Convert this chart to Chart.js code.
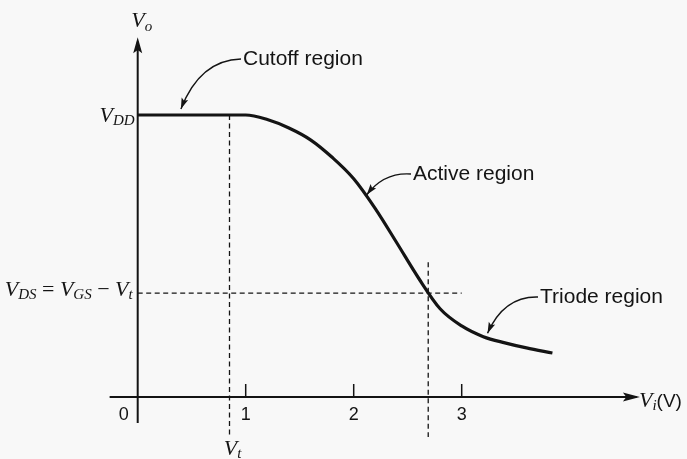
<!DOCTYPE html>
<html>
<head>
<meta charset="utf-8">
<script src="https://cdn.jsdelivr.net/npm/chart.js@4"></script>
<style>
  html, body { margin: 0; padding: 0; background: #f8f8f8; }
  #wrap { width: 687px; height: 459px; }
</style>
</head>
<body>
<div id="wrap"><canvas id="vtc"></canvas></div>
<script>
// Voltage transfer curve of the inverter: input V_i (V) against output V_o
const vi = [0, 0.87, 1.0, 1.2, 1.4, 1.6, 1.8, 2.0, 2.2, 2.4, 2.6, 2.8, 3.0, 3.2, 3.4, 3.6, 3.84];
const vo = [5, 5, 5, 4.92, 4.77, 4.56, 4.25, 3.87, 3.34, 2.73, 2.11, 1.565, 1.26, 1.07, 0.96, 0.87, 0.78];
const xTicks = [1, 2, 3];
const VDD = 5;
const VT = 0.85;          // threshold, end of cutoff
const VI_EDGE = 2.69;     // where V_DS = V_GS - V_t
const VDS_EDGE = 1.84;

const INK = '#141414';
const SERIF = '"Liberation Serif", "Times New Roman", serif';
const SANS = '"Liberation Sans", Arial, sans-serif';

// text made of runs: [text, font, baseline shift]
function textRuns(ctx, parts, x, y, align) {
  let w = 0;
  parts.forEach(p => { ctx.font = p[1]; w += ctx.measureText(p[0]).width; });
  let cx = align === 'right' ? x - w : align === 'center' ? x - w / 2 : x;
  parts.forEach(p => {
    ctx.font = p[1];
    ctx.fillText(p[0], cx, y + (p[2] || 0));
    cx += ctx.measureText(p[0]).width;
  });
}

function arrowHead(ctx, tx, ty, angle, len, half) {
  ctx.save();
  ctx.translate(tx, ty);
  ctx.rotate(angle);
  ctx.beginPath();
  ctx.moveTo(0, 0);
  ctx.lineTo(-len, -half);
  ctx.lineTo(-len * 0.8, 0);
  ctx.lineTo(-len, half);
  ctx.closePath();
  ctx.fill();
  ctx.restore();
}

// curved pointer from a label to a spot on the curve
function pointer(ctx, sx, sy, cx, cy, tx, ty) {
  ctx.beginPath();
  ctx.moveTo(sx, sy);
  ctx.quadraticCurveTo(cx, cy, tx, ty);
  ctx.stroke();
  arrowHead(ctx, tx, ty, Math.atan2(ty - cy, tx - cx), 11, 3.5);
}

const page = {
  id: 'page',
  beforeDraw(chart) {
    const { ctx, width, height } = chart;
    ctx.save();
    ctx.fillStyle = '#f8f8f8';
    ctx.fillRect(0, 0, width, height);
    ctx.restore();
  },
  afterDatasetsDraw(chart) {
    const { ctx } = chart;
    const X = v => chart.scales.x.getPixelForValue(v);
    const Y = v => chart.scales.y.getPixelForValue(v);
    const x0 = X(0), y0 = Y(0);

    ctx.save();
    ctx.strokeStyle = INK;
    ctx.fillStyle = INK;

    // axes with arrow heads
    ctx.lineWidth = 2;
    ctx.beginPath();
    ctx.moveTo(X(-0.26), y0);
    ctx.lineTo(X(4.62), y0);
    ctx.moveTo(x0, Y(-0.46));
    ctx.lineTo(x0, Y(6.3));
    ctx.stroke();
    arrowHead(ctx, X(4.65), y0, 0, 17, 4.5);
    arrowHead(ctx, x0, Y(6.38), -Math.PI / 2, 16, 4.5);

    // ticks on the V_i axis
    ctx.lineWidth = 1.5;
    ctx.beginPath();
    xTicks.forEach(t => { ctx.moveTo(X(t), y0); ctx.lineTo(X(t), y0 - 13); });
    ctx.stroke();

    ctx.textBaseline = 'alphabetic';
    ctx.font = '18px ' + SANS;
    ctx.textAlign = 'center';
    xTicks.forEach(t => ctx.fillText(String(t), X(t), y0 + 23));
    ctx.fillText('0', x0 - 14, y0 + 23);
    ctx.textAlign = 'left';

    const V = 'italic 22px ' + SERIF;
    const S = 'italic 15px ' + SERIF;
    const R = '22px ' + SERIF;

    textRuns(ctx, [['V', V], ['o', S, 4]], x0 + 4, 27, 'center');
    textRuns(ctx, [['V', V], ['DD', S, 3]], x0 - 3, Y(VDD) + 7, 'right');
    textRuns(ctx, [['V', V], ['DS', S, 3], [' = ', R], ['V', V], ['GS', S, 3],
                   [' \u2212 ', R], ['V', V], ['t', S, 3]], x0 - 5, Y(VDS_EDGE) + 3, 'right');
    textRuns(ctx, [['V', V], ['t', S, 3]], X(VT) + 3, y0 + 58, 'center');
    textRuns(ctx, [['V', V], ['i', S, 3], ['(V)', '19px ' + SANS]], X(4.66) - 2, y0 + 10, 'left');

    // region labels and their pointers
    ctx.font = '21px ' + SANS;
    ctx.textBaseline = 'middle';
    ctx.fillText('Cutoff region', 243, 59);
    ctx.fillText('Active region', 413, 174);
    ctx.fillText('Triode region', 540, 297);

    ctx.lineWidth = 1.4;
    pointer(ctx, 241, 59, 200, 60, X(0.4), Y(VDD) - 6);
    pointer(ctx, 411, 174, 384, 172, X(2.13) - 1, Y(3.55) - 2);
    pointer(ctx, 538, 297, 504, 296, X(3.23) + 1, Y(1.06) - 4);
    ctx.restore();
  }
};

const guide = (pts) => ({
  data: pts, borderColor: INK, borderWidth: 1.3, borderDash: [5, 3.5],
  pointRadius: 0, showLine: true, fill: false, tension: 0
});

new Chart(document.getElementById('vtc'), {
  type: 'scatter',
  data: {
    datasets: [
      {
        data: vi.map((x, i) => ({ x, y: vo[i] })),
        borderColor: INK, borderWidth: 3.2, pointRadius: 0, showLine: true,
        cubicInterpolationMode: 'monotone', fill: false
      },
      guide([{ x: VT, y: VDD }, { x: VT, y: -0.71 }]),
      guide([{ x: 0, y: VDS_EDGE }, { x: 3.0, y: VDS_EDGE }]),
      guide([{ x: VI_EDGE, y: 2.39 }, { x: VI_EDGE, y: -0.71 }])
    ]
  },
  options: {
    responsive: true, maintainAspectRatio: false, animation: false,
    layout: { padding: { left: 29.7, right: 9.3, top: 2.2, bottom: 5.6 } },
    plugins: { legend: { display: false }, tooltip: { enabled: false } },
    scales: {
      x: { type: 'linear', min: -1, max: 5, display: false },
      y: { type: 'linear', min: -1, max: 7, display: false }
    }
  },
  plugins: [page]
});
</script>
</body>
</html>
